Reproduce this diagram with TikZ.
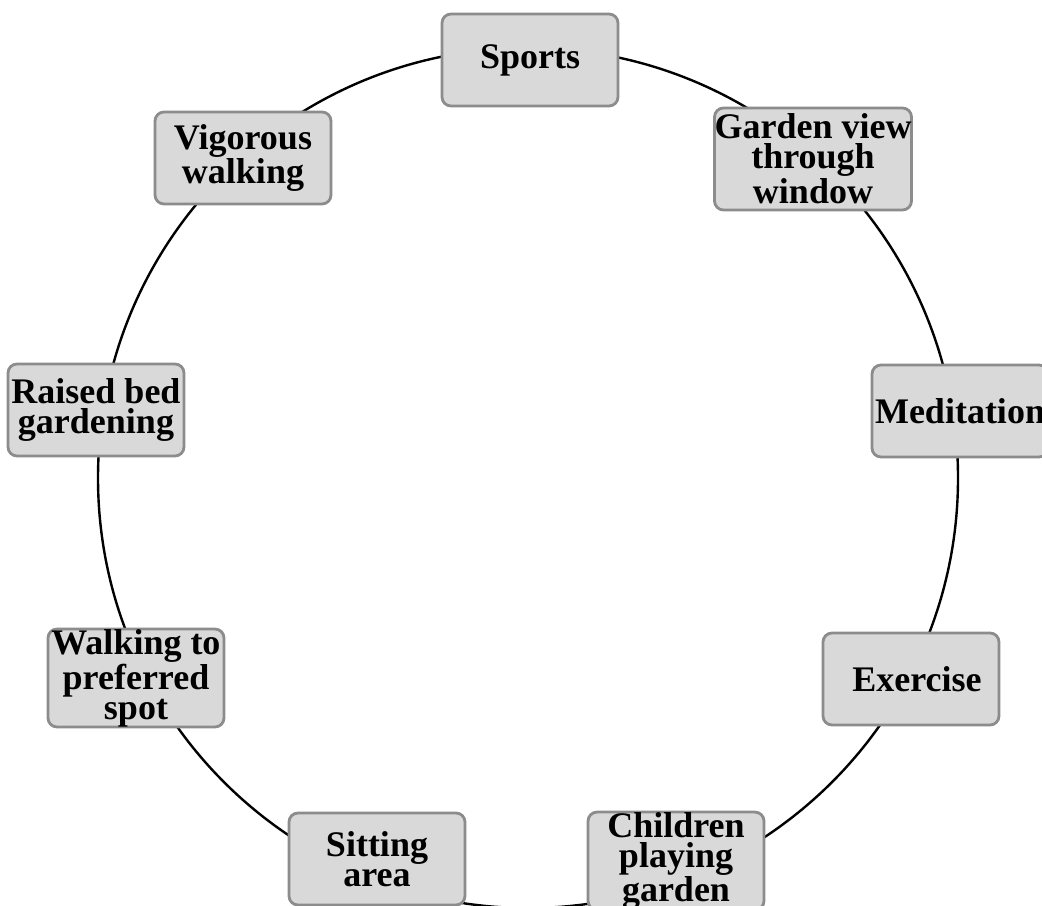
\documentclass[tikz,border=0pt]{standalone}
\usepackage{fontspec}
\setmainfont{Liberation Serif}
\usepackage{tikz}
\usetikzlibrary{arrows,shapes}

\begin{document}
\begin{tikzpicture}[x=0.5pt,y=-0.5pt]

		\definecolor{boxfill}{RGB}{217,217,217}
		\definecolor{boxline}{RGB}{140,140,140}

		\useasboundingbox (0,0) rectangle (1042,905);

		\tikzstyle{edge} = [draw,-,line width=1.2pt]
		\coordinate (c) at (528,478);
		\draw[edge] (c) circle [radius=430];

		\tikzset{vertex/.style = {shape=rectangle,rounded corners=4.5pt,draw=boxline,line width=1.4pt,fill=boxfill,
				minimum width=88pt,minimum height=46pt,inner sep=0pt,align=center,
				font=\fontsize{18pt}{15pt}\selectfont\bfseries}}
		\node[vertex] (sports) at (530,60) {Sports};
		\node[vertex,minimum width=97pt,minimum height=51pt] (garden) at (813,159) {Garden view\\through\\window};
		\node[vertex] (meditation) at (960,411) {Meditation};
		\node[vertex] (exercise) at (911,679) {\hspace*{6pt}Exercise};
		\node[vertex] (children) at (676,861) {Children\\playing\\garden};
		\node[vertex] (sitting) at (377,859) {Sitting\\area};
		\node[vertex] (walking) at (136,678) {Walking to\\preferred\\spot};
		\node[vertex] (raised) at (96,410) {Raised bed\\gardening};
		\node[vertex] (vigorous) at (243,158) {Vigorous\\walking};

\end{tikzpicture}
\end{document}
